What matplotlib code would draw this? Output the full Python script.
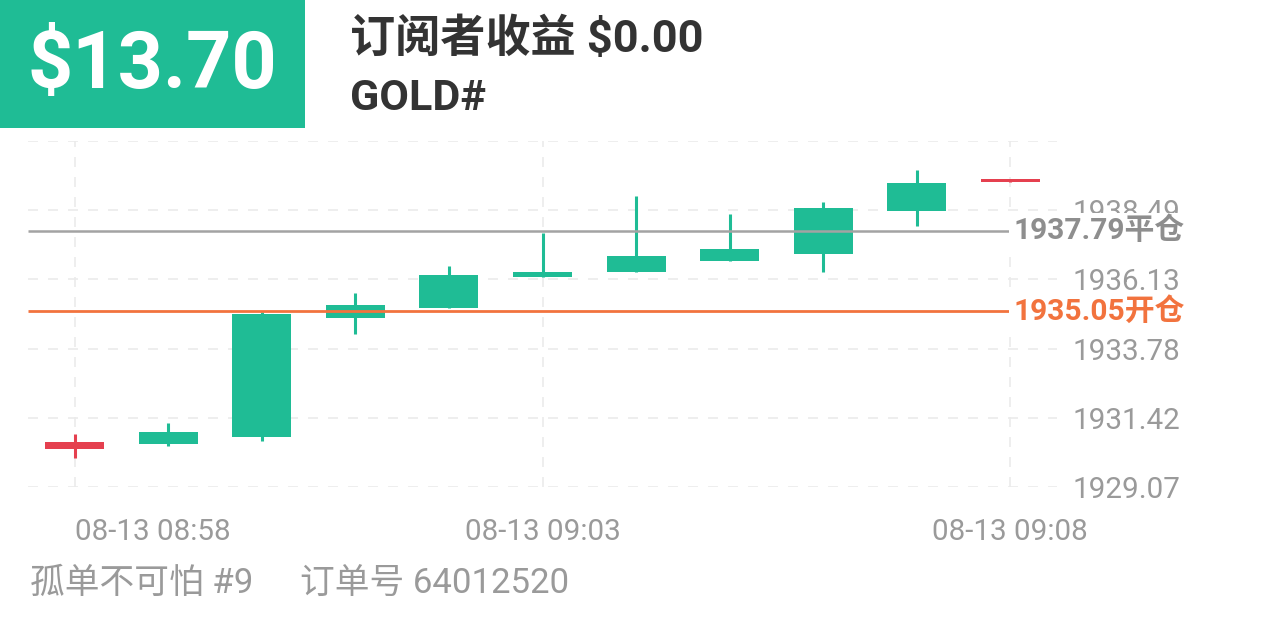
import matplotlib
matplotlib.use('Agg')
import matplotlib.pyplot as plt
from matplotlib.patches import Rectangle

# ---- data ----
times = ['08:58', '08:59', '09:00', '09:01', '09:02', '09:03',
         '09:04', '09:05', '09:06', '09:07', '09:08']
opens = [1930.61, 1930.53, 1930.78, 1934.82, 1935.16, 1936.22,
         1936.37, 1936.77, 1937.00, 1938.47, 1939.55]
closes = [1930.35, 1930.95, 1934.95, 1935.25, 1936.27, 1936.39,
          1936.94, 1937.17, 1938.56, 1939.42, 1939.44]
highs = [1930.88, 1931.25, 1935.03, 1935.67, 1936.58, 1937.71,
         1938.96, 1938.35, 1938.76, 1939.87, 1939.55]
lows = [1930.07, 1930.46, 1930.64, 1934.29, 1935.16, 1936.22,
        1936.37, 1936.77, 1936.37, 1937.95, 1939.44]
ytick_values = [1929.07, 1931.42, 1933.78, 1936.13, 1938.49, 1940.84]
ytick_labels = ['1929.07', '1931.42', '1933.78', '1936.13', '1938.49', '']
xtick_idx = [0, 5, 10]
xtick_labels = ['08-13 08:58', '08-13 09:03', '08-13 09:08']
open_price = 1935.05
close_price = 1937.79
open_label = '1935.05开仓'
close_label = '1937.79平仓'
profit_text = '$13.70'
title_text = '订阅者收益 $0.00'
symbol_text = 'GOLD#'
footer_left = '孤单不可怕 #9'
footer_right = '订单号 64012520'

# ---- style ----
GREEN = '#1FBC95'
RED = '#E5404F'
ORANGE = '#F2733E'
GRAY_LINE = '#A3A3A3'
GRID = '#EBEBEB'
TICK = '#9A9A9A'
DARK = '#333333'
FONTS = ['Roboto', 'Noto Sans CJK SC', 'DejaVu Sans']
plt.rcParams['font.family'] = FONTS

W, H = 1266, 633
fig = plt.figure(figsize=(W / 100, H / 100), dpi=100)
fig.patch.set_facecolor('white')

def fx(px):
    return px / W

def fy(py):
    return 1 - py / H

# axes: x from 28 to 1057 px, y from 141 to 487 px
ax = fig.add_axes([fx(28), fy(487), fx(1057) - fx(28), (487 - 141) / H])
ax.set_xlim(-0.5, 10.5)
ax.set_ylim(1929.07, 1940.84)
for s in ax.spines.values():
    s.set_visible(False)
ax.set_facecolor('none')

ax.set_yticks(ytick_values)
ax.set_yticklabels(ytick_labels)
ax.yaxis.tick_right()
ax.tick_params(axis='y', length=0, pad=89, labelsize=21.3, labelcolor=TICK)
for lbl in ax.get_yticklabels():
    lbl.set_horizontalalignment('right')

ax.set_xticks(xtick_idx)
ax.set_xticklabels(xtick_labels)
ax.tick_params(axis='x', length=0, pad=22, labelsize=21.3, labelcolor=TICK)
xl = ax.get_xticklabels()
xl[0].set_horizontalalignment('left')

ax.grid(True, color=GRID, linestyle=(0, (6, 6)), linewidth=1.2)
ax.set_axisbelow(True)

# candles
for i in range(len(times)):
    o, c, h, l = opens[i], closes[i], highs[i], lows[i]
    col = GREEN if c >= o else RED
    ax.vlines(i, l, h, color=col, linewidth=2.2, zorder=3)
    ax.bar(i, abs(c - o), bottom=min(o, c), width=0.63, color=col,
           linewidth=0, zorder=3)

# position lines
ax.hlines(close_price, -0.5, 10.0, color=GRAY_LINE, linewidth=1.8, zorder=4)
ax.hlines(open_price, -0.5, 10.0, color=ORANGE, linewidth=2.0, zorder=4)
ax.text(10.03, close_price, close_label, color='#8E8E8E', fontsize=21.5,
        fontweight='bold', va='center', ha='left', clip_on=False, zorder=6,
        bbox=dict(facecolor='white', edgecolor='none', pad=2.5))
ax.text(10.03, open_price, open_label, color=ORANGE, fontsize=21.5,
        fontweight='bold', va='center', ha='left', clip_on=False, zorder=6,
        bbox=dict(facecolor='white', edgecolor='none', pad=2.5))

# header
fig.patches.append(Rectangle((0, fy(128)), fx(305), 128 / H,
                             transform=fig.transFigure, facecolor=GREEN,
                             edgecolor='none', zorder=0))
fig.text(fx(152), fy(67), profit_text, color='white', fontsize=57,
         fontweight='bold', ha='center', va='center')
fig.text(fx(350), fy(39), title_text, color=DARK, fontsize=32.5,
         fontweight='bold', ha='left', va='center')
fig.text(fx(350), fy(98), symbol_text, color=DARK, fontsize=31,
         fontweight='bold', ha='left', va='center')

# footer
fig.text(fx(30), fy(583), footer_left, color=TICK, fontsize=25,
         ha='left', va='center')
fig.text(fx(300), fy(583), footer_right, color=TICK, fontsize=25,
         ha='left', va='center')

fig.savefig('out.png', dpi=100, facecolor='white')
